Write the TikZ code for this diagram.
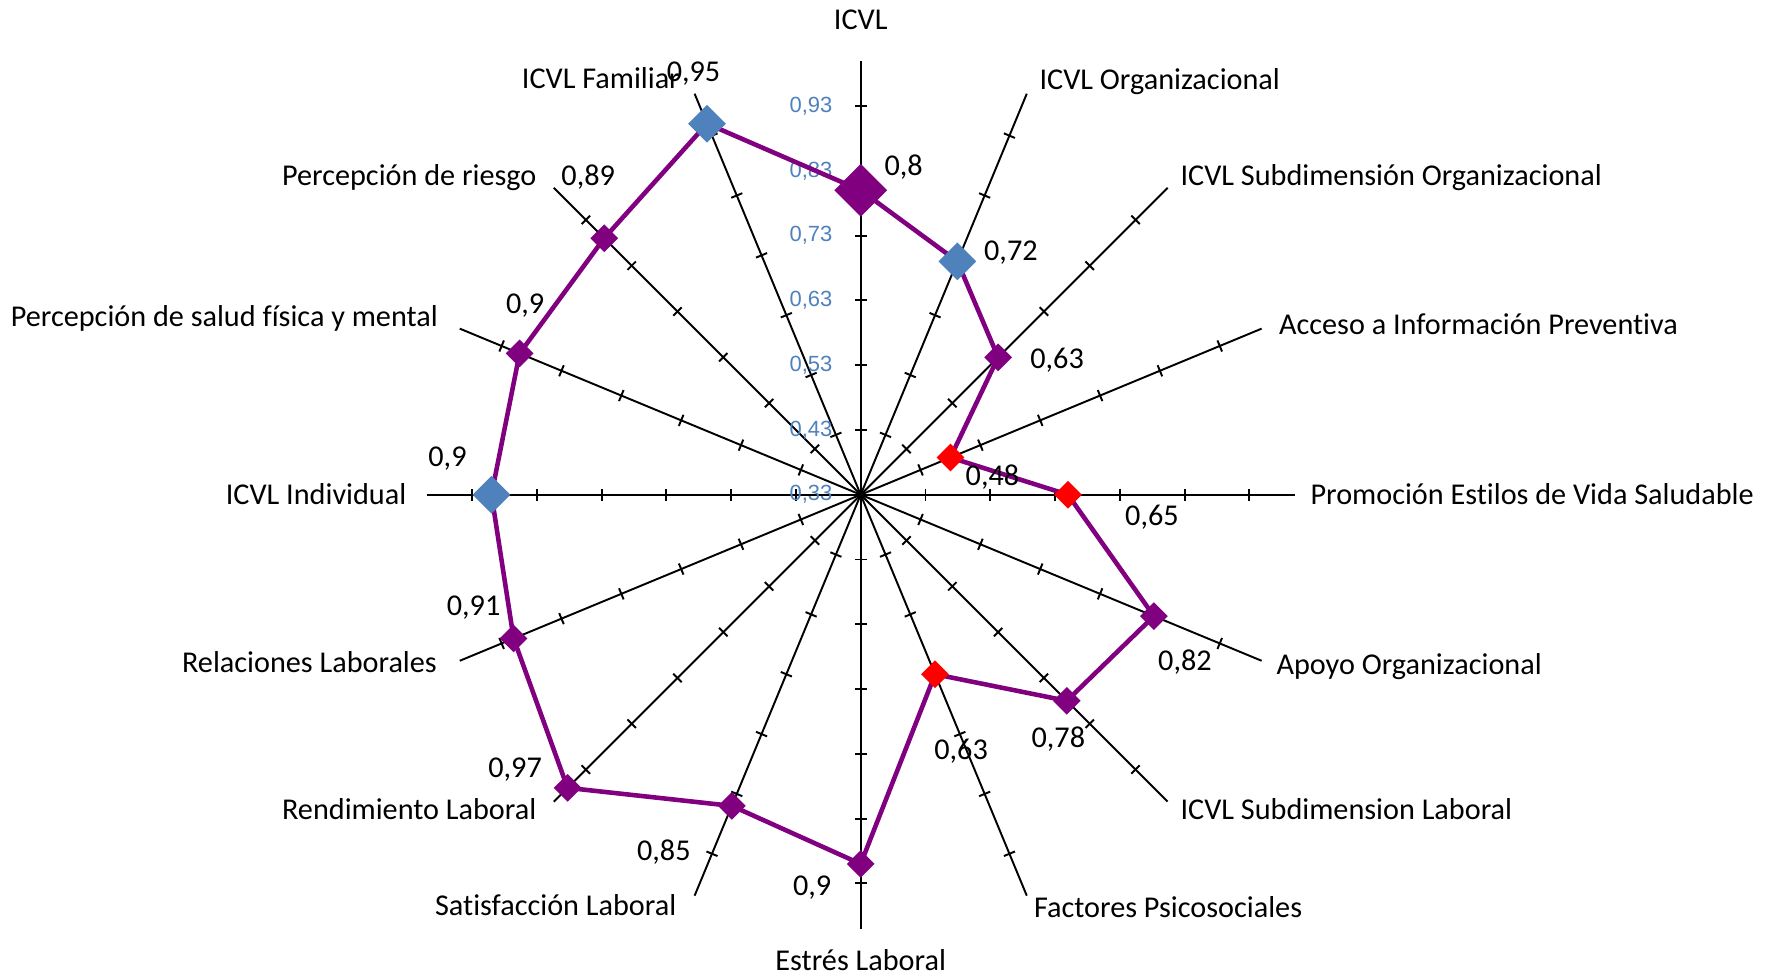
\documentclass[tikz,border=0pt]{standalone}
\usepackage{fontspec}
\setmainfont{Carlito}[Ligatures=NoCommon]
\newfontfamily\axisfont{Liberation Sans}
\usepackage{tikz}
\usetikzlibrary{backgrounds,calc,shapes.geometric}
\definecolor{serpurple}{RGB}{128,0,128}
\definecolor{serblue}{RGB}{79,129,189}
\definecolor{serred}{RGB}{255,0,0}
\tikzset{
  radar axis/.style={black,line width=1.1pt},
  radar tick/.style={black,line width=1.1pt},
  radar line/.style={serpurple,line width=2.6pt,line join=round},
  pt purple/.style={diamond,fill=serpurple,inner sep=0pt,minimum size=5.6mm},
  pt blue/.style={diamond,fill=serblue,inner sep=0pt,minimum size=7.6mm},
  pt red/.style={diamond,fill=serred,inner sep=0pt,minimum size=5.6mm},
  pt big/.style={diamond,fill=serpurple,inner sep=0pt,minimum size=10.6mm},
  cat label/.style={font=\fontsize{17.2}{20}\selectfont,inner sep=0pt},
  val label/.style={font=\fontsize{17.2}{20}\selectfont,inner sep=0pt},
  scale label/.style={font=\axisfont\fontsize{12.5}{15}\selectfont,text=serblue,inner sep=0pt,anchor=east}
}

\begin{document}
\begin{tikzpicture}
  \useasboundingbox (-17.214,-9.666) rectangle (18.206,9.894);
  \coordinate (O) at (0,0);
  \begin{pgfonlayer}{background}
    % spokes with ticks every 0.1
    \foreach \i/\a in {1/90,2/67.5,3/45,4/22.5,5/0,6/-22.5,7/-45,8/-67.5,9/-90,10/-112.5,11/-135,12/-157.5,13/180,14/157.5,15/135,16/112.5} {
      \coordinate (e\i) at (\a:8.68);
      \draw[radar axis] (O) -- (e\i);
      \foreach \k in {1,...,6}
        \draw[radar tick] (\a:{1.2955*\k}) ++(\a+90:0.12) -- ++(\a-90:0.24);
    }
    % scale on the ICVL axis
    \foreach \v in {33,43,...,93}
      \node[scale label] (s\v) at (-0.56,{(\v/100-0.33)*12.955}) {0,\v};
  \end{pgfonlayer}

  % category labels
  \node[cat label] (c1) at (0,9.5) {ICVL};
  \foreach \i/\x/\y/\txt in {2/3.57/8.27/ICVL Organizacional,3/6.39/6.35/ICVL Subdimensión Organizacional,4/8.36/3.41/Acceso a Información Preventiva,5/8.99/0.02/Promoción Estilos de Vida Saludable,6/8.31/-3.43/Apoyo Organizacional,7/6.39/-6.28/ICVL Subdimension Laboral,8/3.46/-8.25/Factores Psicosociales}
    \node[cat label,anchor=west] (c\i) at (\x,\y) {\txt};
  \node[cat label] (c9) at (0,-9.3) {Estrés Laboral};
  \foreach \i/\x/\y/\txt in {10/-3.68/-8.2/Satisfacción Laboral,11/-6.48/-6.28/Rendimiento Laboral,12/-8.47/-3.34/Relaciones Laborales,13/-9.08/0.02/ICVL Individual,14/-8.45/3.52/Percepción de salud física y mental,15/-6.48/6.35/Percepción de riesgo,16/-3.61/8.34/ICVL Familiar}
    \node[cat label,anchor=east] (c\i) at (\x,\y) {\txt};

  % data points
  \foreach \i/\a/\v/\sty in {1/90/0.80/pt big,2/67.5/0.72/pt blue,3/45/0.63/pt purple,4/22.5/0.48/pt red,5/0/0.65/pt red,6/-22.5/0.82/pt purple,7/-45/0.78/pt purple,8/-67.5/0.63/pt red,9/-90/0.90/pt purple,10/-112.5/0.85/pt purple,11/-135/0.97/pt purple,12/-157.5/0.91/pt purple,13/180/0.90/pt blue,14/157.5/0.90/pt purple,15/135/0.89/pt purple,16/112.5/0.95/pt blue}
    \node[\sty] (p\i) at (\a:{(\v-0.33)*12.955}) {};

  \begin{pgfonlayer}{background}
    \draw[radar line] (p1.center) \foreach \i in {2,...,16} {-- (p\i.center)} -- cycle;
  \end{pgfonlayer}

  % value labels
  \foreach \i/\dx/\dy/\txt in {1/0.86/0.46/{0,8},2/1.07/0.17/{0,72},3/1.18/-0.06/{0,63},4/0.84/-0.40/{0,48},5/1.68/-0.46/{0,65},6/0.62/-0.92/{0,82},7/-0.17/-0.76/{0,78},8/0.52/-1.54/{0,63},9/-0.97/-0.48/{0,9},10/-1.36/-0.92/{0,85},11/-1.05/0.37/{0,97},12/-0.80/0.62/{0,91},13/-0.88/0.72/{0,9},14/0.11/0.96/{0,9},15/-0.32/1.22/{0,89},16/-0.27/1.00/{0,95}}
    \node[val label] (v\i) at ([shift={(\dx,\dy)}]p\i.center) {\txt};
\end{tikzpicture}
\end{document}
